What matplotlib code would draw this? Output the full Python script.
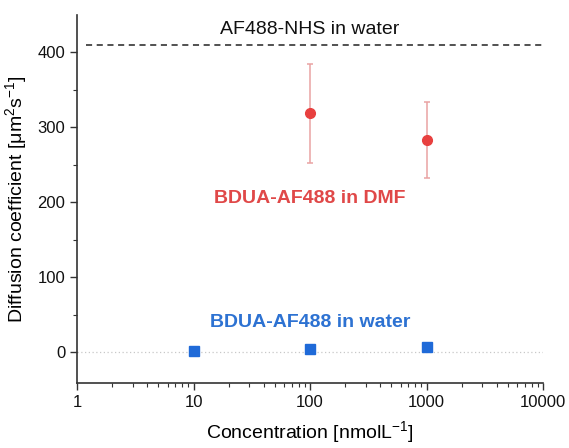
import numpy as np
import matplotlib.pyplot as plt
from matplotlib.ticker import LogLocator, FixedLocator, NullFormatter

plt.rcParams['font.family'] = ['Liberation Sans', 'DejaVu Sans']
plt.rcParams['mathtext.fontset'] = 'custom'
plt.rcParams['mathtext.rm'] = 'Liberation Sans'
plt.rcParams['mathtext.it'] = 'Liberation Sans:italic'
plt.rcParams['mathtext.default'] = 'rm'

# data
conc_dmf = [100, 1000]
d_dmf = [319, 283]
err_dmf = [66, 51]

conc_water = [10, 100, 1000]
d_water = [1.5, 4, 7]

d_nhs = 410

fig = plt.figure(figsize=(5.69, 4.48), dpi=100)
ax = fig.add_axes([77/569, 1-383/448, (543-77)/569, (383-15)/448])

ax.axhline(0, color='#c8c8c8', linestyle=(0, (1, 2)), linewidth=0.9, zorder=1)
ax.axhline(d_nhs, xmin=0.02, xmax=1.0, color='#222222', linestyle=(0, (4, 3)), linewidth=1.1)

ax.errorbar(conc_dmf, d_dmf, yerr=err_dmf, fmt='o', color='#e8403f', markersize=7,
            ecolor='#eaa3a3', elinewidth=1.1, capsize=2.5, capthick=1.1, zorder=3)
ax.plot(conc_water, d_water, 's', color='#1f6ad8', markersize=7, zorder=3)

ax.text(100, 430, 'AF488-NHS in water', ha='center', va='center',
        fontsize=14, color='#111111')
ax.text(100, 205, 'BDUA-AF488 in DMF', ha='center', va='center',
        fontsize=14, color='#e04848', fontweight='bold')
ax.text(100, 40, 'BDUA-AF488 in water', ha='center', va='center',
        fontsize=14, color='#2d72d2', fontweight='bold')

ax.set_xscale('log')
ax.set_xlim(1, 10000)
ax.set_ylim(-41, 450)
ax.set_xticks([1, 10, 100, 1000, 10000])
ax.set_xticklabels(['1', '10', '100', '1000', '10000'])
ax.xaxis.set_minor_locator(LogLocator(base=10, subs=np.arange(2, 10)))
ax.xaxis.set_minor_formatter(NullFormatter())
ax.set_yticks([0, 100, 200, 300, 400])
ax.yaxis.set_minor_locator(FixedLocator([50, 150, 250, 350]))

for side in ['top', 'right']:
    ax.spines[side].set_visible(False)
for side in ['left', 'bottom']:
    ax.spines[side].set_color('#333333')
    ax.spines[side].set_linewidth(1.2)

ax.tick_params(which='major', direction='out', length=5, width=1, colors='#333333',
               labelsize=12, labelcolor='#111111')
ax.tick_params(which='minor', direction='out', length=3, width=0.8, colors='#333333')

ax.set_xlabel('Concentration [nmolL$^{-1}$]', fontsize=14, labelpad=7)
ax.set_ylabel('Diffusion coefficient [μm$^{2}$s$^{-1}$]', fontsize=14, labelpad=6)

fig.savefig('out.png', dpi=100)
